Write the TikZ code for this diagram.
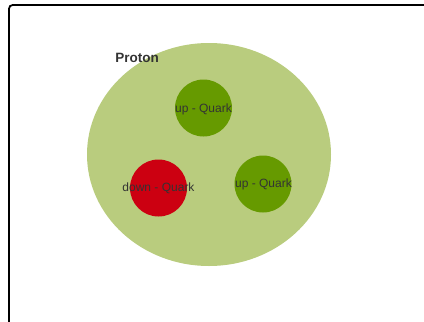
\documentclass[tikz,border=0pt]{standalone}
\usepackage{fontspec}
\setmainfont{Liberation Sans}
\definecolor{protonfill}{HTML}{B9CC7E}
\definecolor{upfill}{HTML}{669A00}
\definecolor{downfill}{HTML}{CC0011}
\definecolor{txt}{HTML}{333333}
\tikzset{
  quark/.style={circle, minimum size=57pt, inner sep=0pt},
  qlabel/.style={text=txt, font=\fontsize{12}{14}\selectfont, inner sep=0pt},
}
\begin{document}
\begin{tikzpicture}[x=1pt,y=-1pt]
\useasboundingbox (0,0) rectangle (424,322);
\clip (0,0) rectangle (424,322);
\node[draw=black, line width=1.8pt, rounded corners=4pt, minimum width=440pt, minimum height=340pt, anchor=north west, inner sep=0pt] (frame) at (8,4) {};
\fill[protonfill] (209,154.5) ellipse [x radius=122, y radius=111.5];
\coordinate (proton) at (209,154.5);
\node[text=txt, font=\bfseries\fontsize{13.5}{16}\selectfont, inner sep=0pt] (protonlabel) at (137,58) {Proton};
\node[quark, fill=upfill] (up1) at (203.5,108) {};
\node[quark, fill=downfill] (down) at (158.5,188) {};
\node[quark, fill=upfill] (up2) at (263,184) {};
\node[qlabel] (up1t) at (203.5,109) {up - Quark};
\node[qlabel] (downt) at (158.5,188) {down - Quark};
\node[qlabel] (up2t) at (263.5,184.5) {up - Quark};
\end{tikzpicture}
\end{document}
